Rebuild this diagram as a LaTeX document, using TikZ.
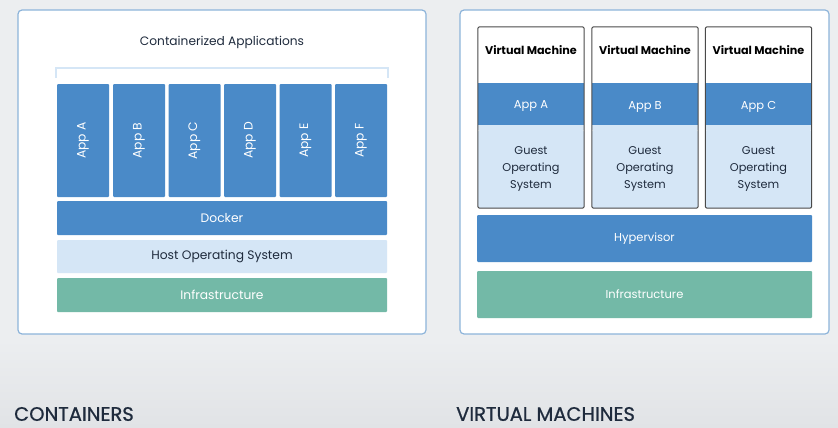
\documentclass[tikz,border=0pt]{standalone}
\usepackage{fontspec}
\setmainfont{Poppins}
\newfontfamily\titlefont[FakeBold=0.8]{Poppins}
\definecolor{bg}{HTML}{ECEEF0}
\definecolor{bgdark}{HTML}{E1E3E6}
\definecolor{panelborder}{HTML}{8DB4DA}
\definecolor{appblue}{HTML}{4A8AC8}
\definecolor{lightblue}{HTML}{D5E6F6}
\definecolor{infragreen}{HTML}{73B9A7}
\definecolor{darktext}{HTML}{1F2B3D}
\definecolor{vmborder}{HTML}{4A4A4A}
\begin{document}
\begin{tikzpicture}[x=1pt,y=-1pt,
  panel/.style={draw=panelborder,line width=1.2pt,rounded corners=4pt,fill=white},
  layer/.style={inner sep=0pt,outer sep=0pt,rounded corners=1pt,font=\fontsize{12.3}{14}\selectfont,align=center},
  bluebox/.style={layer,fill=appblue,text=white},
  lightbox/.style={layer,fill=lightblue,text=darktext},
  greenbox/.style={layer,fill=infragreen,text=white},
  vmframe/.style={draw=vmborder,line width=1pt,rounded corners=2pt},
  title/.style={anchor=west,inner sep=0pt,text=darktext,font=\titlefont\fontsize{19.5}{22}\selectfont}]
\useasboundingbox (0,0) rectangle (838,428);
\fill[bg] (0,0) rectangle (838,428);
\shade[top color=bg,bottom color=bgdark] (0,340) rectangle (838,428);
% left panel
\draw[panel] (18,10) rectangle (426,334);
\node[inner sep=0pt,text=darktext,font=\fontsize{12.2}{14}\selectfont] (ca) at (222,42) {Containerized Applications};
\coordinate (bl) at (56,78);
\coordinate (br) at (388,78);
\draw[lightblue,line width=1.5pt] (bl) -- ++(0,-10) -| (br);
\foreach \n/\cx in {A/83,B/139,C/194.5,D/250,E/305.5,F/361}{
  \node[bluebox,minimum width=52,minimum height=113] (app\n) at (\cx,140.5) {\rotatebox{90}{App \n}};
}
\node[bluebox,minimum width=330,minimum height=34] (docker) at (222,218) {Docker};
\node[lightbox,minimum width=330,minimum height=33] (hostos) at (222,256.5) {Host Operating System};
\node[greenbox,minimum width=330,minimum height=34] (infraL) at (222,295) {Infrastructure};
% right panel
\draw[panel] (460,10) rectangle (829,334);
\foreach \i/\cx/\ap in {1/531/A,2/645/B,3/758.5/C}{
  \node[fill=white,inner sep=0pt,minimum width=106,minimum height=181,rounded corners=2pt] (vm\i) at (\cx,117.5) {};
  \node[fill=appblue,inner sep=0pt,minimum width=106,minimum height=47,text=white,font=\fontsize{11.5}{13}\selectfont] (vmapp\i) at (\cx,106.5) {App \ap};
  \node[fill=lightblue,inner sep=0pt,minimum width=106,minimum height=78,rounded corners=2pt,text=darktext,align=center,font=\fontsize{11.3}{17}\selectfont] (guest\i) at (\cx,169) {Guest\\Operating\\System};
  \fill[lightblue] (guest\i.north west) rectangle ([yshift=5pt]guest\i.north east);
  \draw[vmframe] (vm\i.north west) rectangle (vm\i.south east);
  \node[inner sep=0pt,text=black,font=\bfseries\fontsize{11.2}{13}\selectfont] (vmt\i) at (\cx,50) {Virtual Machine};
}
\node[bluebox,font=\fontsize{11.5}{13}\selectfont,minimum width=335,minimum height=47] (hyper) at (644.5,238.5) {Hypervisor};
\node[greenbox,font=\fontsize{11.5}{13}\selectfont,minimum width=335,minimum height=47] (infraR) at (644.5,294.5) {Infrastructure};
% titles
\node[title] (tc) at (14,414) {CONTAINERS};
\node[title] (tv) at (456,414) {VIRTUAL MACHINES};
\end{tikzpicture}
\end{document}
